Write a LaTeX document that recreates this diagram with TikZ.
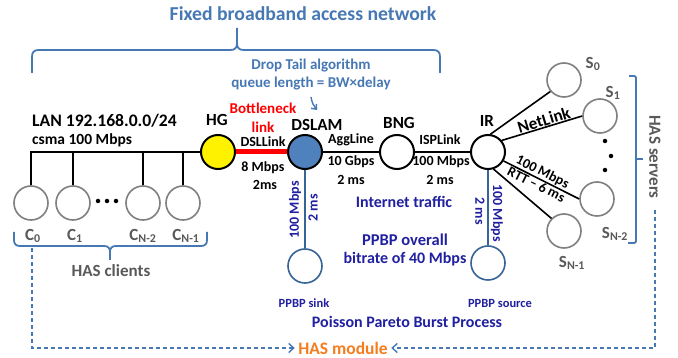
\documentclass[tikz,border=0pt]{standalone}
\usepackage{fontspec}
\setmainfont{Carlito}
\usetikzlibrary{arrows.meta}
\definecolor{hasblue}{RGB}{70,120,180}
\definecolor{navytext}{RGB}{32,32,160}
\definecolor{ppbpline}{RGB}{55,100,150}
\definecolor{ringgray}{RGB}{128,128,128}
\definecolor{textgray}{RGB}{89,89,89}
\definecolor{modorange}{RGB}{245,125,30}
\definecolor{dslamfill}{RGB}{79,129,189}
\tikzset{
  fs/.style={font=\bfseries\fontsize{#1}{#1}\selectfont},
  router/.style={circle,draw=black,line width=2pt,minimum size=34pt,inner sep=0pt},
  hostnode/.style={circle,draw=ringgray,line width=1.6pt,minimum size=34pt,inner sep=0pt},
  ppbpnode/.style={circle,draw=ppbpline,line width=1.6pt,minimum size=34pt,inner sep=0pt},
  wire/.style={line width=1.6pt,black},
  bluewire/.style={line width=1.4pt,ppbpline},
  bracket/.style={line width=1.8pt,hasblue},
  loopline/.style={line width=1.4pt,hasblue,dash pattern=on 4pt off 3pt,
    -{Straight Barb[length=5pt,width=9pt,line width=1.4pt]}},
  dot/.style={circle,fill=black,inner sep=0pt,minimum size=5pt},
}
\begin{document}
\begin{tikzpicture}[x=1pt,y=-1pt]
\useasboundingbox[fill=white] (0,0) rectangle (678,358);

% title and top brace
\node[fs=19.7,text=hasblue] (title) at (303,14) {Fixed broadband access network};
\draw[bracket] (32,73) -- (32,57) .. controls (32,52) and (34,50) .. (39,50) -- (230,50)
  .. controls (235,50) and (237,48) .. (237,43) -- (237,28);
\draw[bracket] (237,43) .. controls (237,48) and (239,50) .. (244,50) -- (433,50)
  .. controls (438,50) and (440,52) .. (440,57) -- (440,73);

\node[fs=15,text=hasblue] (drop1) at (311,66) {Drop Tail algorithm};
\node[fs=15,text=hasblue] (drop2) at (311,84) {queue length = BW×delay};
\coordinate (qa) at (311,97);
\coordinate (qb) at (317,110);
\draw[line width=1.4pt,hasblue,-{Straight Barb[length=4pt,width=7pt,line width=1.4pt]}] (qa) to[bend right=15] (qb);

% routers
\node[router,fill=yellow] (hg) at (218,152) {};
\node[router,fill=dslamfill] (dslam) at (305,152) {};
\node[router,fill=white] (bng) at (397,152) {};
\node[router,fill=white] (ir) at (488,152) {};

\node[fs=17] (hgl) at (217,120) {HG};
\node[fs=17] (dslaml) at (317,125) {DSLAM};
\node[fs=17] (bngl) at (399,123) {BNG};
\node[fs=17] (irl) at (487,121) {IR};

% LAN
\node[fs=17.6,anchor=west,inner sep=0pt] (lan) at (32,121) {LAN 192.168.0.0/24};
\node[fs=15.5,anchor=west,inner sep=0pt] (csma) at (32,140) {csma 100 Mbps};

\node[hostnode] (c0) at (31,203) {};
\node[hostnode] (c1) at (73,203) {};
\node[hostnode] (c2) at (143,203) {};
\node[hostnode] (c3) at (183,203) {};
\draw[wire] (hg.west) -- (c0.north |- hg.west) -- (c0.north);
\draw[wire] (c1.north) -- (c1.north |- hg.west);
\draw[wire] (c2.north) -- (c2.north |- hg.west);
\draw[wire] (c3.north) -- (c3.north |- hg.west);
\node[dot,minimum size=4.5pt] (cd1) at (98,201) {};
\node[dot,minimum size=4.5pt] (cd2) at (107,201) {};
\node[dot,minimum size=4.5pt] (cd3) at (116,201) {};

\node[fs=17,text=textgray] (c0l) at (33,236) {C\textsubscript{0}};
\node[fs=17,text=textgray] (c1l) at (75,236) {C\textsubscript{1}};
\node[fs=17,text=textgray] (c2l) at (143,236) {C\textsubscript{N-2}};
\node[fs=17,text=textgray] (c3l) at (186,236) {C\textsubscript{N-1}};

% clients brace
\draw[bracket] (14,232) -- (14,240) .. controls (14,244) and (16,246) .. (20,246) -- (104,246)
  .. controls (108,246) and (110,248) .. (110,252) -- (110,260);
\draw[bracket] (110,252) .. controls (110,248) and (112,246) .. (116,246) -- (201,246)
  .. controls (205,246) and (207,244) .. (207,240) -- (207,232);
\node[fs=17,text=textgray] (hascl) at (111,271) {HAS clients};

% access links
\draw[line width=5pt,red] (hg.east) -- (dslam.west);
\draw[wire] (dslam.east) -- (bng.west);
\draw[wire] (bng.east) -- (ir.west);

\node[fs=15,text=red] (bn1) at (263,108) {Bottleneck};
\node[fs=15,text=red] (bn2) at (263,127) {link};
\node[fs=14] (dsll) at (263,142) {DSLLink};
\node[fs=14] (dsl1) at (263,168) {8 Mbps};
\node[fs=14] (dsl2) at (265,185) {2ms};
\node[fs=14] (agg) at (351,140) {AggLine};
\node[fs=14] (agg1) at (351,162) {10 Gbps};
\node[fs=14] (agg2) at (351,180) {2 ms};
\node[fs=14] (isp) at (440,140) {ISPLink};
\node[fs=14] (isp1) at (441,162) {100 Mbps};
\node[fs=14] (isp2) at (440,180) {2 ms};

% servers
\node[hostnode] (s0) at (564,80) {};
\node[hostnode] (s1) at (600,116) {};
\node[hostnode] (s2) at (597,199) {};
\node[hostnode] (s3) at (564,231) {};
\draw[wire] (ir.82) -- (s0.220);
\draw[wire] (ir.40) -- node[sloped,above,fs=17,inner sep=0.5pt,pos=0.55] {NetLink} (s1.west);
\draw[wire] (ir.-30) -- node[sloped,above,fs=14,inner sep=0.5pt,pos=0.47] {100 Mbps}
  node[sloped,below,fs=14,inner sep=0.5pt,pos=0.47] {RTT – 6 ms} (s2.west);
\draw[wire] (ir.-72) -- (s3.135);
\node[dot,minimum size=4.5pt] (sd1) at (605,141) {};
\node[dot,minimum size=4.5pt] (sd2) at (611,156) {};
\node[dot,minimum size=4.5pt] (sd3) at (605,170) {};

\node[fs=17,text=textgray] (s0l) at (593,64) {S\textsubscript{0}};
\node[fs=17,text=textgray] (s1l) at (613,93) {S\textsubscript{1}};
\node[fs=17,text=textgray] (s2l) at (615,234) {S\textsubscript{N-2}};
\node[fs=17,text=textgray] (s3l) at (572,263) {S\textsubscript{N-1}};

% servers bracket
\draw[bracket,rounded corners=2pt] (629,76) -- (636,76) -- (636,243) -- (628,243);
\draw[bracket] (636,159) -- (643,159);
\node[fs=17,text=textgray,rotate=-90] (hassv) at (655,157) {HAS servers};

% PPBP traffic
\node[ppbpnode] (sink) at (305,266) {};
\node[ppbpnode] (src) at (488,263) {};
\draw[bluewire] (dslam.south) -- (sink.north);
\draw[bluewire] (ir.south) -- (src.north);
\node[fs=14,text=navytext,rotate=90] (sk1) at (295,210) {100 Mbps};
\node[fs=14,text=navytext,rotate=90] (sk2) at (313,208) {2 ms};
\node[fs=14,text=navytext,rotate=-90] (sr1) at (480,211) {2 ms};
\node[fs=14,text=navytext,rotate=-90] (sr2) at (497,213) {100 Mbps};
\node[fs=12.5,text=navytext] (sinkl) at (304,303) {PPBP sink};
\node[fs=12.5,text=navytext] (srcl) at (500,303) {PPBP source};
\node[fs=16,text=navytext] (inet) at (404,202) {Internet traffic};
\node[fs=16.5,text=navytext] (ov1) at (405,240) {PPBP overall};
\node[fs=16,text=navytext] (ov2) at (405,259) {bitrate of 40 Mbps};
\node[fs=16,text=navytext] (ppp) at (407,322) {Poisson Pareto Burst Process};

% HAS module loop
\node[fs=17.5,text=modorange] (hasmod) at (343,348) {HAS module};
\coordinate (lstart) at (32,248);
\coordinate (rstart) at (655,210);
\draw[loopline] (lstart) |- (hasmod.west);
\draw[loopline] (rstart) |- (hasmod.east);
\end{tikzpicture}
\end{document}
